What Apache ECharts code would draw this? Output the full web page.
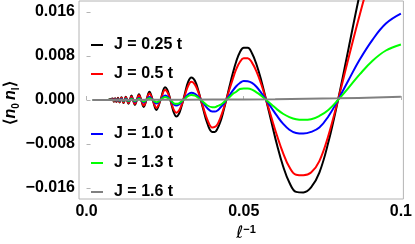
<!DOCTYPE html>
<html>
<head>
<meta charset="utf-8">
<script src="https://cdn.jsdelivr.net/npm/echarts@6/dist/echarts.min.js"></script>
<style>
html,body{margin:0;padding:0;background:#fff;}
#c{width:415px;height:244px;}
</style>
</head>
<body>
<div id="c"></div>
<script>
// x = 1/l values (ascending)
const xs = [
  0.002, 0.004, 0.00667,
  0.00833, 0.00851, 0.0087, 0.00889, 0.00909, 0.0093, 0.00952, 0.00976,
  0.01, 0.01026, 0.01053, 0.01081, 0.01111, 0.01143, 0.01176, 0.01212, 0.0125, 0.0129, 0.01333, 0.01379,
  0.01429, 0.01481, 0.01538, 0.016, 0.01667, 0.01739, 0.01818, 0.01905, 0.02, 0.02105, 0.02222, 0.02353,
  0.025, 0.02564, 0.02632, 0.02667, 0.02703, 0.02778, 0.02857, 0.02941, 0.0303, 0.03077, 0.03125, 0.03226,
  0.03333, 0.03448, 0.03571, 0.03636, 0.03704, 0.03846, 0.04,
  0.04082, 0.04167, 0.04255, 0.04348, 0.04444, 0.04545, 0.04651, 0.04762, 0.04878, 0.05,
  0.05128, 0.05263, 0.05405, 0.05556, 0.05714, 0.05882, 0.06061, 0.0625, 0.06452, 0.06667,
  0.06897, 0.07143, 0.07407, 0.07692, 0.08, 0.08333, 0.08696, 0.09091, 0.09524, 0.1
];
const j025 = [
  0, 0, 0,
  0.00027, 0, -0.0003, 0, 0.00032, 0, -0.00035, 0,
  0.0004, 0, -0.00045, 0, 0.0005, 0, -0.00055, 0, 0.0006, 0, -0.0007, 0,
  0.0008, 0, -0.0009, 0, 0.00105, 0, -0.00125, 0, 0.0015, 0, -0.0018, 0,
  0.0023, 0.0019, 0.0008, 0, -0.0008, -0.0023, -0.0030, -0.0025, -0.0010, 0, 0.0011, 0.0032,
  0.0041, 0.0035, 0.0014, 0, -0.0015, -0.0043, -0.0058,
  -0.0058, -0.0052, -0.0040, -0.0022, 0, 0.0024, 0.0048, 0.0070, 0.0087, 0.0095,
  0.0095, 0.0085, 0.0065, 0.0036, 0, -0.0040, -0.0082, -0.0120, -0.0150, -0.0167,
  -0.0168, -0.0159, -0.0132, -0.0077, 0, 0.0093, 0.0194, 0.0291, 0.0371, 0.042
];
const j05 = [
  0, 0, 0,
  0.00023, 0, -0.00025, 0, 0.00027, 0, -0.0003, 0,
  0.00033, 0, -0.00036, 0, 0.0004, 0, -0.00045, 0, 0.0005, 0, -0.00056, 0,
  0.00064, 0, -0.00073, 0, 0.00085, 0, -0.0010, 0, 0.0012, 0, -0.0014, 0,
  0.0018, 0.0015, 0.0006, 0, -0.0006, -0.0018, -0.0023, -0.0019, -0.0008, 0, 0.0008, 0.0025,
  0.0033, 0.0028, 0.0012, 0, -0.0012, -0.0036, -0.0050,
  -0.0049, -0.0044, -0.0033, -0.0018, 0, 0.0019, 0.0038, 0.0056, 0.0069, 0.0076,
  0.0076, 0.0068, 0.0052, 0.0029, 0, -0.0032, -0.0065, -0.0096, -0.0122, -0.0136,
  -0.0137, -0.0132, -0.0111, -0.0065, 0, 0.0076, 0.0156, 0.0235, 0.0304, 0.034
];
const j10 = [
  0, 0, 0,
  0.0001, 0, -0.00011, 0, 0.00012, 0, -0.00013, 0,
  0.00014, 0, -0.00016, 0, 0.00018, 0, -0.0002, 0, 0.00022, 0, -0.00025, 0,
  0.00029, 0, -0.00033, 0, 0.00038, 0, -0.00045, 0, 0.00053, 0, -0.00065, 0,
  0.0008, 0.00066, 0.00025, 0, -0.0003, -0.0008, -0.0010, -0.0008, -0.0003, 0, 0.0003, 0.0010,
  0.0013, 0.0011, 0.0005, 0, -0.0005, -0.0015, -0.0021,
  -0.0021, -0.0019, -0.0014, -0.0008, 0, 0.0008, 0.0017, 0.0025, 0.0031, 0.00345,
  0.0034, 0.0031, 0.0024, 0.0013, 0, -0.0014, -0.0029, -0.0043, -0.0054, -0.0060,
  -0.0061, -0.0058, -0.0050, -0.0030, 0, 0.0036, 0.0074, 0.0109, 0.0139, 0.0157
];
const j13 = [
  0, 0, 0,
  0.00006, 0, -0.00007, 0, 0.00007, 0, -0.00008, 0,
  0.00009, 0, -0.0001, 0, 0.00011, 0, -0.00012, 0, 0.00013, 0, -0.00015, 0,
  0.00017, 0, -0.0002, 0, 0.00024, 0, -0.00028, 0, 0.00034, 0, -0.00042, 0,
  0.00053, 0.00045, 0.00016, 0, -0.0002, -0.0006, -0.0007, -0.0006, -0.0002, 0, 0.0002, 0.0007,
  0.0009, 0.0008, 0.0003, 0, -0.0003, -0.0010, -0.0013,
  -0.0013, -0.0011, -0.0009, -0.0005, 0, 0.0005, 0.0011, 0.0015, 0.0020, 0.0021,
  0.0021, 0.0019, 0.0014, 0.0008, 0, -0.0008, -0.0017, -0.0025, -0.0031, -0.0035,
  -0.0036, -0.0035, -0.0029, -0.0018, 0, 0.0022, 0.0047, 0.0071, 0.0090, 0.0101
];
const j16x = [0.002, 0.02, 0.04, 0.06, 0.08, 0.1];
const j16 = [0, 0.00003, 0.00008, 0.00015, 0.0003, 0.0006];

const names = ['J = 0.25 t', 'J = 0.5 t', 'J = 1.0 t', 'J = 1.3 t', 'J = 1.6 t'];
const colors = ['#000000', '#ff0000', '#0000ff', '#00ff00', '#808080'];
const xTicks = [0, 0.05, 0.1];
const xTickLabels = ['0.0', '0.05', '0.1'];
const yTicks = [-0.016, -0.008, 0, 0.008, 0.016];
const yTickLabels = ['\u22120.016', '\u22120.008', '0.000', '0.008', '0.016'];

const FONT = "'Liberation Sans', Arial, sans-serif";
const pair = (x, y) => x.map((v, i) => [v, y[i]]);
const seriesData = [pair(xs, j025), pair(xs, j05), pair(xs, j10), pair(xs, j13), pair(j16x, j16)];

function lab(ticks, labels) {
  return v => {
    for (let i = 0; i < ticks.length; i++) if (Math.abs(v - ticks[i]) < 1e-9) return labels[i];
    return '';
  };
}
const labelStyle = { color: '#000', fontSize: 16, fontWeight: 'bold', fontFamily: FONT };
const legendBase = {
  orient: 'vertical', left: 86, icon: 'rect', itemWidth: 12, itemHeight: 2, itemGap: 13,
  selectedMode: false,
  textStyle: { color: '#000', fontSize: 16, fontWeight: 'bold', fontFamily: FONT, padding: [0, 0, 0, 6] }
};

const chart = echarts.init(document.getElementById('c'), null, { renderer: 'canvas' });
chart.setOption({
  animation: false,
  backgroundColor: '#fff',
  grid: { left: 79, right: 8, top: 1, bottom: 45, show: true, borderColor: '#b4b4b4', borderWidth: 1 },
  legend: [
    Object.assign({}, legendBase, { top: 32, data: names.slice(0, 2) }),
    Object.assign({}, legendBase, { top: 121, data: names.slice(2) })
  ],
  xAxis: {
    type: 'value', min: -0.0024, max: 0.1008,
    splitLine: { show: false }, axisLine: { show: false },
    axisTick: { show: true, inside: true, length: 4, lineStyle: { color: '#b4b4b4' }, customValues: xTicks },
    axisLabel: Object.assign({ customValues: xTicks, formatter: lab(xTicks, xTickLabels), margin: 5 }, labelStyle)
  },
  yAxis: {
    type: 'value', min: -0.018, max: 0.018,
    splitLine: { show: false }, axisLine: { show: false },
    axisTick: { show: true, inside: true, length: 4, lineStyle: { color: '#b4b4b4' }, customValues: yTicks },
    axisLabel: Object.assign({ customValues: yTicks, formatter: lab(yTicks, yTickLabels), margin: 4 }, labelStyle)
  },
  series: names.map((n, i) => ({
    name: n, type: 'line', data: seriesData[i], showSymbol: false, smooth: 0.4,
    color: colors[i], lineStyle: { width: 2, color: colors[i] }, clip: true
  })),
  graphic: [
    {
      type: 'text', x: 11, y: 103, rotation: Math.PI / 2,
      style: {
        text: '{b|\u27e8}{n|n}{s|0} {n|n}{s|l}{b|\u27e9}',
        align: 'center', verticalAlign: 'middle',
        rich: {
          b: { fontSize: 16, fontWeight: 'bold', fontFamily: FONT, lineHeight: 20, fill: '#000' },
          n: { fontSize: 16, fontWeight: 'bold', fontStyle: 'italic', fontFamily: FONT, lineHeight: 20, fill: '#000' },
          s: { fontSize: 10, fontWeight: 'bold', fontFamily: FONT, lineHeight: 10, verticalAlign: 'bottom', fill: '#000' }
        }
      }
    },
    {
      type: 'text', x: 246, y: 234,
      style: {
        text: '{l|\u2113}{p|\u22121}',
        align: 'center', verticalAlign: 'middle',
        rich: {
          l: { fontSize: 17, fontStyle: 'italic', fontFamily: 'DejaVu Sans', lineHeight: 20, fill: '#000' },
          p: { fontSize: 11, fontWeight: 'bold', fontFamily: FONT, lineHeight: 10, verticalAlign: 'top', fill: '#000' }
        }
      }
    }
  ]
});
</script>
</body>
</html>
